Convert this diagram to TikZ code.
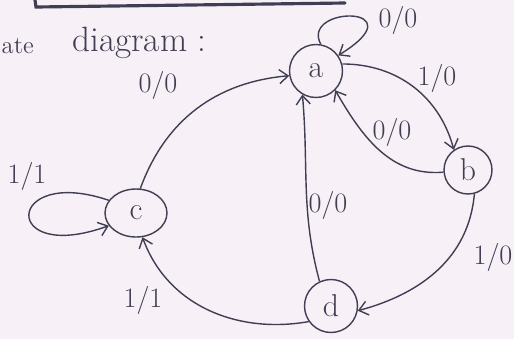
\documentclass[tikz,border=0pt]{standalone}
\usetikzlibrary{arrows.meta,shapes.geometric}
\definecolor{pencil}{RGB}{64,62,82}
\definecolor{paper}{RGB}{247,241,247}

\begin{document}
\begin{tikzpicture}[x=0.02cm, y=-0.02cm, color=pencil, line width=0.8pt,
    >={Straight Barb[length=5pt,width=8pt]},
    stnode/.style={circle, draw, minimum size=1.06cm, inner sep=0pt, font=\fontsize{18}{20}\selectfont},
    lbl/.style={font=\fontsize{16}{18}\selectfont}]
  \fill[paper] (0,0) rectangle (514,339);
  \useasboundingbox (0,0) rectangle (514,339);
  % ---------------------------------------------------------------- heading
  \draw[line width=1.8pt, line cap=round] (35,0) -- (36,7) -- (345,3);
  \node[anchor=west, inner sep=0pt, font=\fontsize{14}{16}\selectfont] (hdl) at (1,46) {ate};
  \node[anchor=west, font=\fontsize{20}{22}\selectfont] (hd) at (66,43) {diagram :};
  % ---------------------------------------------------------------- states
  \node[stnode] (a) at (316,71) {a};
  \node[stnode, minimum size=0.96cm] (b) at (468,170) {b};
  \node[ellipse, draw, minimum width=1.24cm, minimum height=0.96cm, inner sep=0pt,
        font=\fontsize{18}{20}\selectfont] (c) at (136,213) {c};
  \node[stnode] (d) at (331,306) {d};
  % ---------------------------------------------------------------- transitions
  \draw[->] (c.80) to[out=70, in=185] (a.190);
  \draw[->] (a.80) .. controls (300,5) and (420,5) .. (a.35);
  \draw[->] (a.15) to[out=0, in=105] (b.125);
  \draw[->] (b.185) to[out=185, in=-60] (a.-45);
  \draw[->] (b.-75) to[out=-95, in=15] (d.-10);
  \draw[->] (d.115) to[out=105, in=-85] (a.240);
  \draw[->] (d.215) to[out=190, in=-70] (c.-75);
  \draw[->] (c.155) .. controls (5,165) and (0,265) .. (c.205);
  % ---------------------------------------------------------------- labels
  \node[lbl] (lca) at (158,85) {0/0};
  \node[lbl] (laa) at (398,20) {0/0};
  \node[lbl] (lab) at (437,78) {1/0};
  \node[lbl] (lba) at (392,132) {0/0};
  \node[lbl] (lda) at (328,205) {0/0};
  \node[lbl] (lbd) at (493,257) {1/0};
  \node[lbl] (ldc) at (143,300) {1/1};
  \node[lbl] (lcc) at (27,176) {1/1};
\end{tikzpicture}
\end{document}
